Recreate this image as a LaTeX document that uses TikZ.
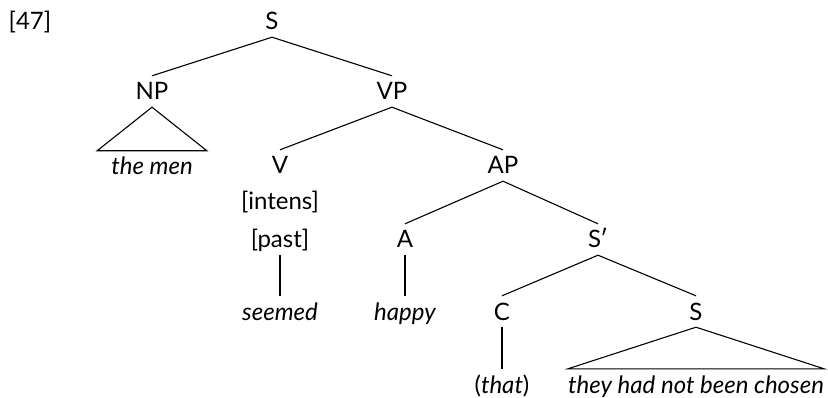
\documentclass[tikz,border=0pt]{standalone}
\usepackage{fontspec}
\setmainfont{Lato}
\begin{document}
\begin{tikzpicture}[x=1pt,y=-1pt,
  lbl/.style={anchor=base,inner sep=0pt,text height=24pt,text depth=7pt,font=\fontsize{24}{28}\selectfont},
  word/.style={lbl,font=\fontsize{24}{28}\selectfont\itshape},
  edge/.style={line width=1.1pt,line cap=butt}]
\useasboundingbox (0,0) rectangle (828,398);
\node[lbl] (num) at (30,30) {[47]};
\node[lbl] (S) at (272,30) {S};
\node[lbl] (NP) at (152,100) {NP};
\node[lbl] (VP) at (392,100) {VP};
\node[word,inner xsep=14pt] (men) at (152,175) {the men};
\node[lbl] (V) at (280,174) {V};
\node[lbl] (AP) at (503,174) {AP};
\node[lbl] (int) at (280,210) {[intens]};
\node[lbl] (past) at (280,248) {[past]};
\node[word] (seemed) at (280,320) {seemed};
\node[lbl] (A) at (405,248) {A};
\node[lbl] (Sb) at (598,248) {S\kern-1pt′};
\node[word] (happy) at (405,320) {happy};
\node[lbl] (C) at (502,320) {C};
\node[lbl] (S2) at (696,320) {S};
\node[lbl] (that) at (502,393) {(\textit{that})};
\node[word] (they) at (696,393) {they had not been chosen};
\draw[edge] (S.south) -- (NP.north);
\draw[edge] (S.south) -- (VP.north);
\draw[edge,line join=miter] (NP.south) -- (men.north west) -- (men.north east) -- cycle;
\draw[edge] (VP.south) -- (V.north);
\draw[edge] (VP.south) -- (AP.north);
\draw[edge] (past.south) -- (seemed.north);
\draw[edge] (AP.south) -- (A.north);
\draw[edge] (AP.south) -- (Sb.north);
\draw[edge] (A.south) -- (happy.north);
\draw[edge] (Sb.south) -- (C.north);
\draw[edge] (Sb.south) -- (S2.north);
\draw[edge] (C.south) -- (that.north);
\draw[edge,line join=miter] (S2.south) -- (they.north west) -- (they.north east) -- cycle;
\end{tikzpicture}
\end{document}
